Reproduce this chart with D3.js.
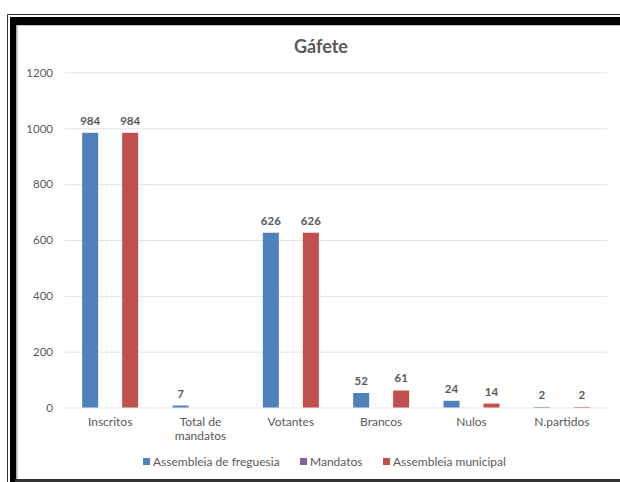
<!DOCTYPE html>
<html>
<head>
<meta charset="utf-8">
<script src="https://cdn.jsdelivr.net/npm/d3@7"></script>
<style>
  html, body { margin: 0; padding: 0; background: #fff; }
  svg { display: block; }
  text { font-family: "Lato", "Liberation Sans", sans-serif; fill: #595959; }
</style>
</head>
<body>
<svg id="chart" width="620" height="482"></svg>
<script>
const title = "Gáfete";
const categories = ["Inscritos", "Total de mandatos", "Votantes", "Brancos", "Nulos", "N.partidos"];
const seriesNames = ["Assembleia de freguesia", "Mandatos", "Assembleia municipal"];
const freguesia = [984, 7, 626, 52, 24, 2];
const mandatos = [null, null, null, null, null, null];
const municipal = [984, null, 626, 61, 14, 2];
const yTicks = [0, 200, 400, 600, 800, 1000, 1200];
const colors = ["#4F81BD", "#8064A2", "#C0504D"];

const seriesValues = [freguesia, mandatos, municipal];

const svg = d3.select("#chart");

// frame
svg.append("line").attr("x1", 7.5).attr("y1", 14.5).attr("x2", 620).attr("y2", 14.5).attr("stroke", "#333").attr("stroke-width", 1);
svg.append("line").attr("x1", 7.5).attr("y1", 14.5).attr("x2", 7.5).attr("y2", 482).attr("stroke", "#333").attr("stroke-width", 1);
svg.append("rect").attr("x", 10).attr("y", 17).attr("width", 620).attr("height", 8).attr("fill", "#000");
svg.append("rect").attr("x", 10).attr("y", 17).attr("width", 6.5).attr("height", 470).attr("fill", "#000");
svg.append("line").attr("x1", 17).attr("y1", 25.5).attr("x2", 620).attr("y2", 25.5).attr("stroke", "#bbb").attr("stroke-width", 1);
svg.append("line").attr("x1", 17).attr("y1", 25.5).attr("x2", 17).attr("y2", 479).attr("stroke", "#bbb").attr("stroke-width", 1.5);
svg.append("rect").attr("x", 15).attr("y", 479).attr("width", 610).attr("height", 3).attr("fill", "#333");

const x = d3.scaleBand().domain(categories).range([65, 607]).paddingInner(0.38).paddingOuter(0.19);
const xs = d3.scaleBand().domain(seriesNames).range([0, x.bandwidth()]).paddingInner(0.2).paddingOuter(0);
const y = d3.scaleLinear().domain([0, 1200]).range([407.5, 72.5]);

// gridlines + y labels
const yAxis = d3.axisLeft(y).tickValues(yTicks).tickSize(-(607 - 65)).tickPadding(12).tickFormat(d3.format("d"));
const ga = svg.append("g").attr("transform", "translate(65,0)").call(yAxis);
ga.select(".domain").remove();
ga.selectAll(".tick line").attr("stroke", "#E3E3E3").attr("stroke-width", 1);
ga.selectAll(".tick text").attr("font-size", 11.5).attr("fill", "#595959").style("font-family", "Lato, sans-serif");

// title
svg.append("text").attr("x", 321).attr("y", 53).attr("text-anchor", "middle")
  .attr("font-size", 18).attr("font-weight", "bold").text(title);

// bars
const groups = svg.append("g").selectAll("g").data(categories).join("g")
  .attr("transform", d => `translate(${x(d)},0)`);

seriesNames.forEach((s, si) => {
  groups.each(function(c, ci) {
    const v = seriesValues[si][ci];
    if (v === null || v === undefined) return;
    const g = d3.select(this);
    g.append("rect")
      .attr("x", xs(s)).attr("width", xs.bandwidth())
      .attr("y", y(v)).attr("height", y(0) - y(v))
      .attr("fill", colors[si]);
    g.append("text")
      .attr("x", xs(s) + xs.bandwidth() / 2).attr("y", y(v) - 8)
      .attr("text-anchor", "middle").attr("font-size", 11.5).attr("font-weight", "bold")
      .text(v);
  });
});

// x labels with wrapping
const xl = svg.append("g");
categories.forEach(c => {
  const t = xl.append("text").attr("x", x(c) + x.bandwidth() / 2).attr("y", 426)
    .attr("text-anchor", "middle").attr("font-size", 12);
  const words = c.split(" ");
  let line = [];
  let tspan = t.append("tspan").attr("x", x(c) + x.bandwidth() / 2).attr("dy", 0);
  words.forEach(w => {
    line.push(w);
    tspan.text(line.join(" "));
    if (tspan.node().getComputedTextLength() > 60 && line.length > 1) {
      line.pop();
      tspan.text(line.join(" "));
      line = [w];
      tspan = t.append("tspan").attr("x", x(c) + x.bandwidth() / 2).attr("dy", 14).text(w);
    }
  });
});

// legend
const legend = svg.append("g");
const legX = [143, 300, 383];
seriesNames.forEach((s, i) => {
  legend.append("rect").attr("x", legX[i]).attr("y", 458).attr("width", 7).attr("height", 7).attr("fill", colors[i]);
  legend.append("text").attr("x", legX[i] + 10).attr("y", 465.5).attr("font-size", 12).text(s);
});
</script>
</body>
</html>
